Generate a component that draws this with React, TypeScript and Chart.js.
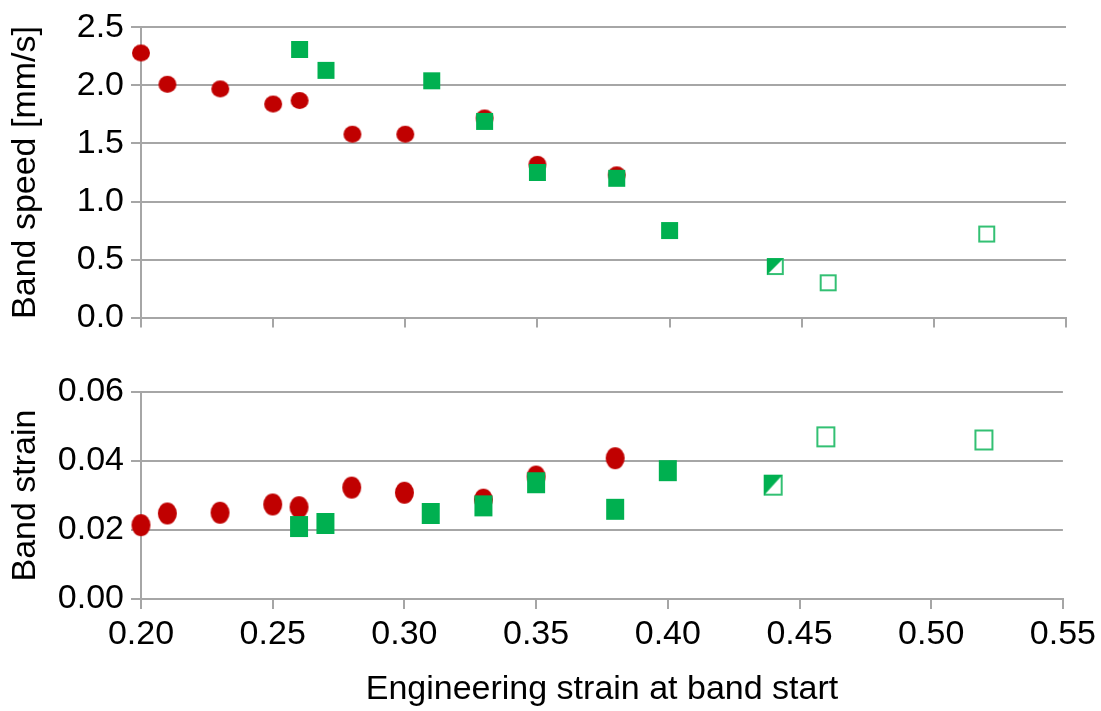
import React, { useEffect, useRef } from 'react';
import { Chart, registerables } from 'chart.js';

Chart.register(...registerables);

const FONT_FAMILY = '"Liberation Sans", Arial, sans-serif';
const RED = '#C00000';
const GREEN = '#00B050';
const GRID = '#A6A6A6';
const TEXT = '#000000';

// Engineering strain at band start (x)
const xTickValues = [0.2, 0.25, 0.3, 0.35, 0.4, 0.45, 0.5, 0.55];
const speedTickValues = [0, 0.5, 1.0, 1.5, 2.0, 2.5];
const bandStrainTickValues = [0, 0.02, 0.04, 0.06];

// Red circles
const redStrain = [0.2, 0.21, 0.23, 0.25, 0.26, 0.28, 0.3, 0.33, 0.35, 0.38];
const redSpeed = [2.28, 2.01, 1.97, 1.84, 1.87, 1.58, 1.58, 1.72, 1.32, 1.23];
const redBandStrain = [0.0214, 0.0248, 0.025, 0.0274, 0.0266, 0.0323, 0.0308, 0.0288, 0.0355, 0.0408];

// Green filled squares
const greenStrain = [0.26, 0.27, 0.31, 0.33, 0.35, 0.38, 0.4];
const greenSpeed = [2.31, 2.13, 2.04, 1.69, 1.25, 1.2, 0.75];
const greenBandStrain = [0.021, 0.0219, 0.0248, 0.027, 0.0337, 0.026, 0.0372];

// Green half-filled square
const halfStrain = [0.44];
const halfSpeed = [0.44];
const halfBandStrain = [0.033];

// Green open squares
const openStrain = [0.46, 0.52];
const openSpeed = [0.3, 0.72];
const openBandStrain = [0.047, 0.0461];

type Kind = 'circle' | 'square' | 'half' | 'open';

function marker(kind: Kind, w: number, h: number): HTMLCanvasElement {
  const c = document.createElement('canvas');
  c.width = w + 2;
  c.height = h + 2;
  const ctx = c.getContext('2d') as CanvasRenderingContext2D;
  const x0 = 1;
  const y0 = 1;
  if (kind === 'circle') {
    ctx.fillStyle = RED;
    ctx.beginPath();
    ctx.ellipse(x0 + w / 2, y0 + h / 2, w / 2, h / 2, 0, 0, Math.PI * 2);
    ctx.fill();
  } else if (kind === 'square') {
    ctx.fillStyle = GREEN;
    ctx.fillRect(x0, y0, w, h);
  } else {
    ctx.fillStyle = '#ffffff';
    ctx.fillRect(x0, y0, w, h);
    if (kind === 'half') {
      ctx.fillStyle = GREEN;
      ctx.beginPath();
      ctx.moveTo(x0, y0);
      ctx.lineTo(x0 + w, y0);
      ctx.lineTo(x0, y0 + h);
      ctx.closePath();
      ctx.fill();
    }
    ctx.strokeStyle = 'rgba(0,176,80,0.8)';
    ctx.lineWidth = 2;
    ctx.strokeRect(x0 + 1, y0 + 1, w - 2, h - 2);
  }
  return c;
}

function pts(xs: number[], ys: number[]) {
  return xs.map((x, i) => ({ x, y: ys[i] }));
}

const font = { family: FONT_FAMILY, size: 34 };

function makeOptions(opts: {
  yTicks: number[];
  yMax: number;
  yDecimals: number;
  yTitle: string;
  padTop: number;
  xHeight: number;
  showXLabels: boolean;
}): any {
  return {
    responsive: true,
    maintainAspectRatio: false,
    animation: false,
    events: [],
    layout: { padding: { top: opts.padTop, right: 35, bottom: 0, left: 0 } },
    plugins: {
      legend: { display: false },
      tooltip: { enabled: false },
    },
    scales: {
      x: {
        type: 'linear',
        min: 0.2,
        max: 0.55,
        afterBuildTicks: (s: any) => {
          s.ticks = xTickValues.map((v) => ({ value: v }));
        },
        afterFit: (s: any) => {
          s.height = opts.xHeight;
        },
        ticks: {
          display: opts.showXLabels,
          callback: (v: any) => Number(v).toFixed(2),
          font,
          color: TEXT,
          padding: 5,
          maxRotation: 0,
          autoSkip: false,
        },
        grid: {
          drawOnChartArea: false,
          drawTicks: true,
          tickLength: 10,
          color: GRID,
          lineWidth: 2,
        },
        border: { display: true, color: GRID, width: 2 },
        title: {
          display: opts.showXLabels,
          text: 'Engineering strain at band start',
          font,
          color: TEXT,
          padding: { top: 0, bottom: 1 },
        },
      },
      y: {
        type: 'linear',
        min: 0,
        max: opts.yMax,
        afterBuildTicks: (s: any) => {
          s.ticks = opts.yTicks.map((v) => ({ value: v }));
        },
        afterFit: (s: any) => {
          s.width = 141;
        },
        ticks: {
          callback: (v: any) => Number(v).toFixed(opts.yDecimals),
          font,
          color: TEXT,
          padding: 7,
        },
        grid: {
          color: GRID,
          lineWidth: 2,
          tickLength: 10,
        },
        border: { display: true, color: GRID, width: 2 },
        title: {
          display: true,
          text: opts.yTitle,
          font,
          color: TEXT,
          padding: { top: 5, bottom: 0 },
        },
      },
    },
  };
}

function ScatterPanel(props: {
  top: number;
  height: number;
  ys: { red: number[]; green: number[]; half: number[]; open: number[] };
  sizes: { circle: [number, number]; square: [number, number]; open: [number, number] };
  options: any;
}) {
  const ref = useRef<HTMLCanvasElement | null>(null);
  useEffect(() => {
    if (!ref.current) return;
    const { ys, sizes } = props;
    const chart = new Chart(ref.current, {
      type: 'scatter',
      data: {
        datasets: [
          {
            label: 'red',
            data: pts(redStrain, ys.red),
            pointStyle: marker('circle', sizes.circle[0], sizes.circle[1]),
            pointRadius: 9,
            order: 2,
            clip: false,
          } as any,
          {
            label: 'green',
            data: pts(greenStrain, ys.green),
            pointStyle: marker('square', sizes.square[0], sizes.square[1]),
            pointRadius: 9,
            order: 1,
            clip: false,
          },
          {
            label: 'half',
            data: pts(halfStrain, ys.half),
            pointStyle: marker('half', sizes.open[0], sizes.open[1]),
            pointRadius: 9,
            order: 1,
            clip: false,
          },
          {
            label: 'open',
            data: pts(openStrain, ys.open),
            pointStyle: marker('open', sizes.open[0], sizes.open[1]),
            pointRadius: 9,
            order: 1,
            clip: false,
          },
        ],
      },
      options: props.options,
    });
    return () => chart.destroy();
  }, []);
  return (
    <div style={{ position: 'absolute', left: 0, top: props.top, width: 1101, height: props.height }}>
      <canvas ref={ref} />
    </div>
  );
}

export default function App() {
  const topOptions = makeOptions({
    yTicks: speedTickValues,
    yMax: 2.5,
    yDecimals: 1,
    yTitle: 'Band speed [mm/s]',
    padTop: 23,
    xHeight: 21,
    showXLabels: false,
  });
  const bottomOptions = makeOptions({
    yTicks: bandStrainTickValues,
    yMax: 0.06,
    yDecimals: 2,
    yTitle: 'Band strain',
    padTop: 47,
    xHeight: 112,
    showXLabels: true,
  });
  return (
    <div style={{ position: 'fixed', left: 0, top: 0, width: 1101, height: 711, background: '#ffffff' }}>
      <ScatterPanel
        top={0}
        height={345}
        ys={{ red: redSpeed, green: greenSpeed, half: halfSpeed, open: openSpeed }}
        sizes={{ circle: [18, 17], square: [17, 17], open: [17, 17] }}
        options={topOptions}
      />
      <ScatterPanel
        top={345}
        height={366}
        ys={{ red: redBandStrain, green: greenBandStrain, half: halfBandStrain, open: openBandStrain }}
        sizes={{ circle: [19, 22], square: [18, 21], open: [19, 21] }}
        options={bottomOptions}
      />
    </div>
  );
}
